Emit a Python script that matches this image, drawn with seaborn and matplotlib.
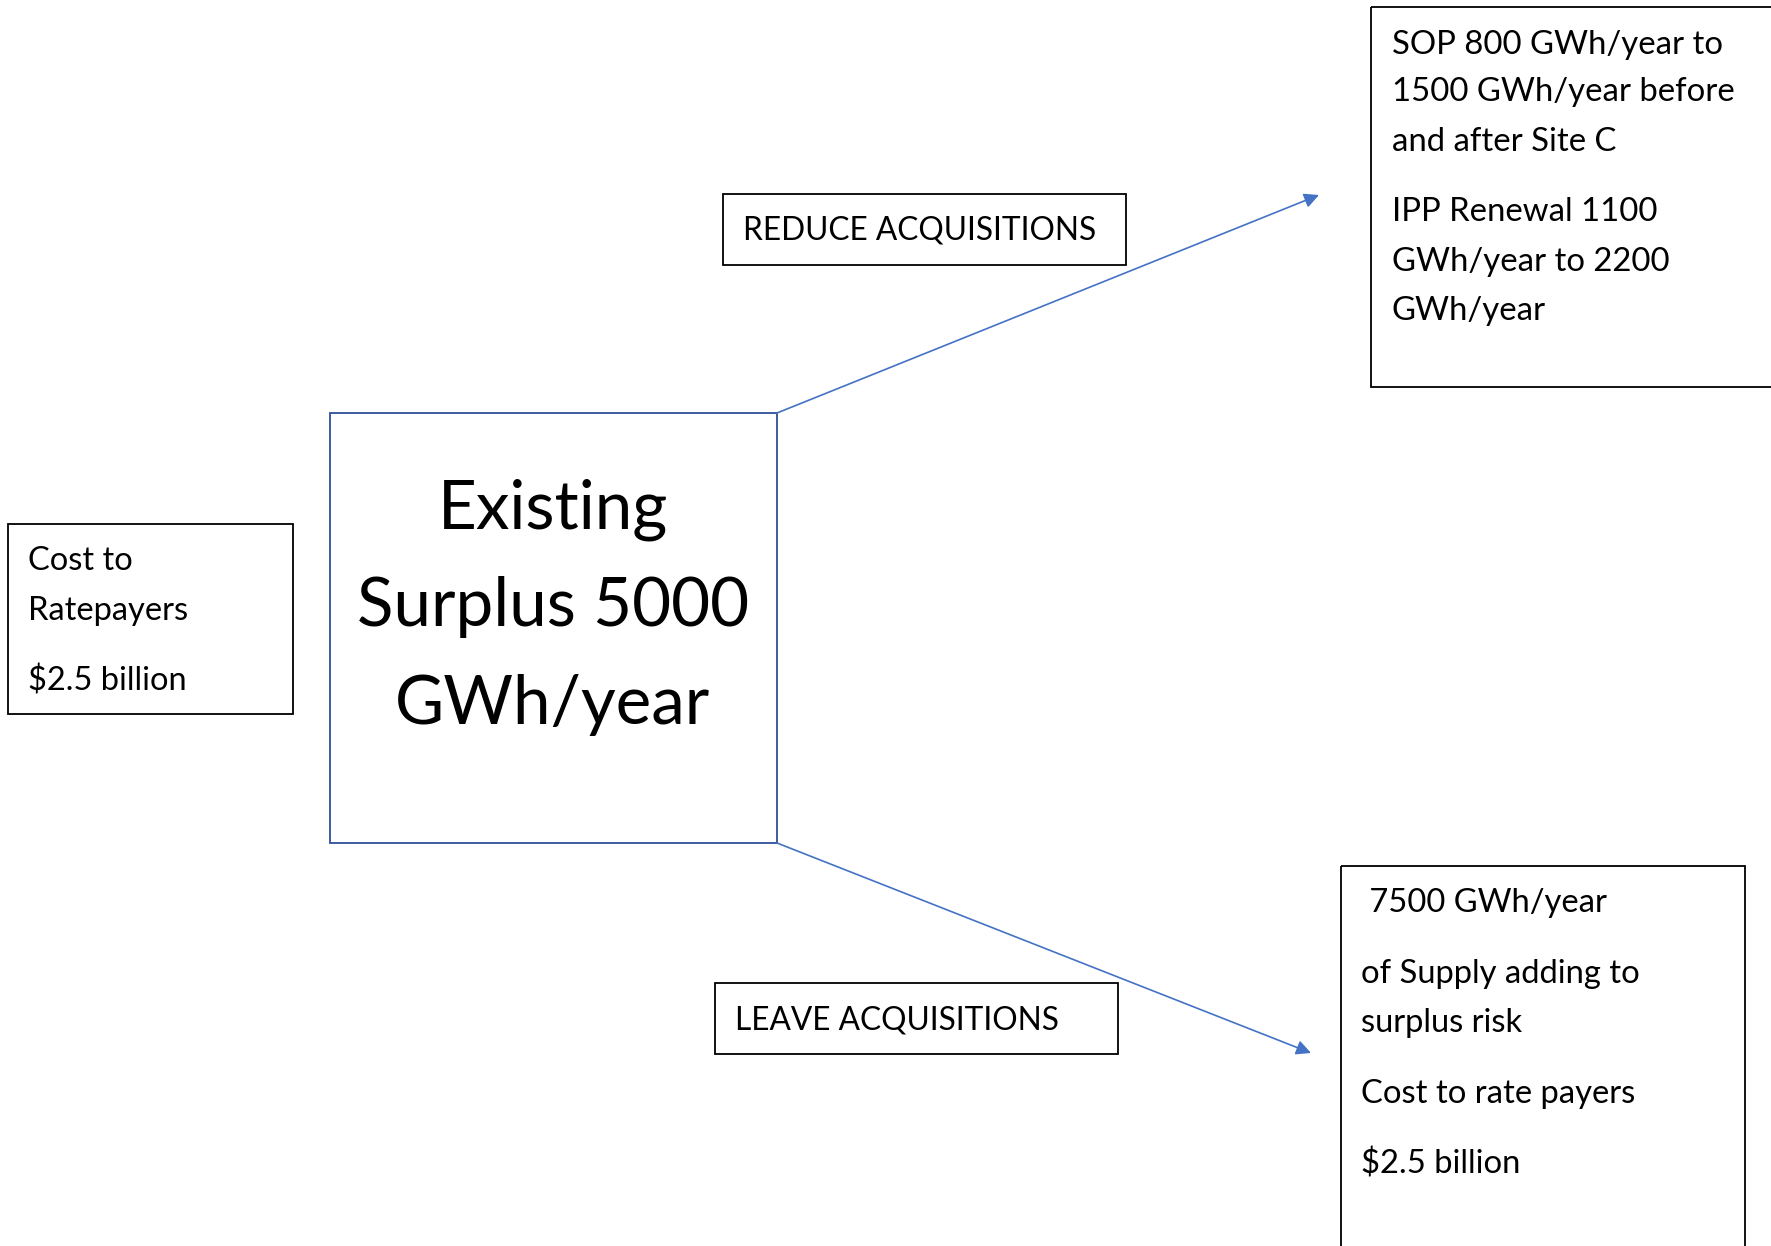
import matplotlib
matplotlib.use("Agg")
import matplotlib.pyplot as plt
import matplotlib.patches as patches
import seaborn as sns

sns.set_theme(style="white")
plt.rcParams['font.family'] = ['Lato', 'DejaVu Sans']

# box texts
center_lines = ["Existing", "Surplus 5000", "GWh/year"]
left_lines = ["Cost to", "Ratepayers", "$2.5 billion"]
top_right_lines = ["SOP 800 GWh/year to", "1500 GWh/year before", "and after Site C",
                   "IPP Renewal 1100", "GWh/year to 2200", "GWh/year"]
bottom_right_lines = [" 7500 GWh/year", "of Supply adding to", "surplus risk",
                      "Cost to rate payers", "$2.5 billion"]
reduce_label = "REDUCE ACQUISITIONS"
leave_label = "LEAVE ACQUISITIONS"

W, H = 1771, 1246
fig = plt.figure(figsize=(W / 100, H / 100), dpi=100)
ax = fig.add_axes([0, 0, 1, 1])
ax.set_xlim(0, W)
ax.set_ylim(H, 0)
ax.axis('off')


def box(x0, y0, x1, y1, color='black', lw=1.3):
    ax.add_patch(patches.Rectangle((x0, y0), x1 - x0, y1 - y0, fill=False,
                                   edgecolor=color, linewidth=lw))


def lines(x, ys, texts, size, ha='left'):
    for y, t in zip(ys, texts):
        ax.text(x, y, t, fontsize=size, ha=ha, va='center', color='black')


# boxes
box(8, 524, 293, 714)
box(330, 413, 777, 843, color='#2F4F9A', lw=1.3)
box(1371, 7, 1790, 387)
box(1341, 866, 1745, 1260)
box(723, 194, 1126, 265)
box(715, 983, 1118, 1054)

# texts
lines(28, [561, 611, 681], left_lines, 23.5)
lines(553, [510, 607, 705], center_lines, 48.5, ha='center')
lines(1392, [45, 92, 142, 212, 262, 311], top_right_lines, 23.7)
lines(1361, [903, 974, 1023, 1094, 1164], bottom_right_lines, 23.6)
lines(743, [231], [reduce_label], 22.8)
lines(735, [1020], [leave_label], 22.8)

# arrows
arrow_kw = dict(arrowstyle='-|>', color='#4472C4', lw=1.2, mutation_scale=22,
                shrinkA=0, shrinkB=0)
ax.annotate('', xy=(1319, 195), xytext=(777, 413), arrowprops=arrow_kw)
ax.annotate('', xy=(1311, 1053), xytext=(777, 843), arrowprops=arrow_kw)

fig.savefig('out.png', dpi=100)
